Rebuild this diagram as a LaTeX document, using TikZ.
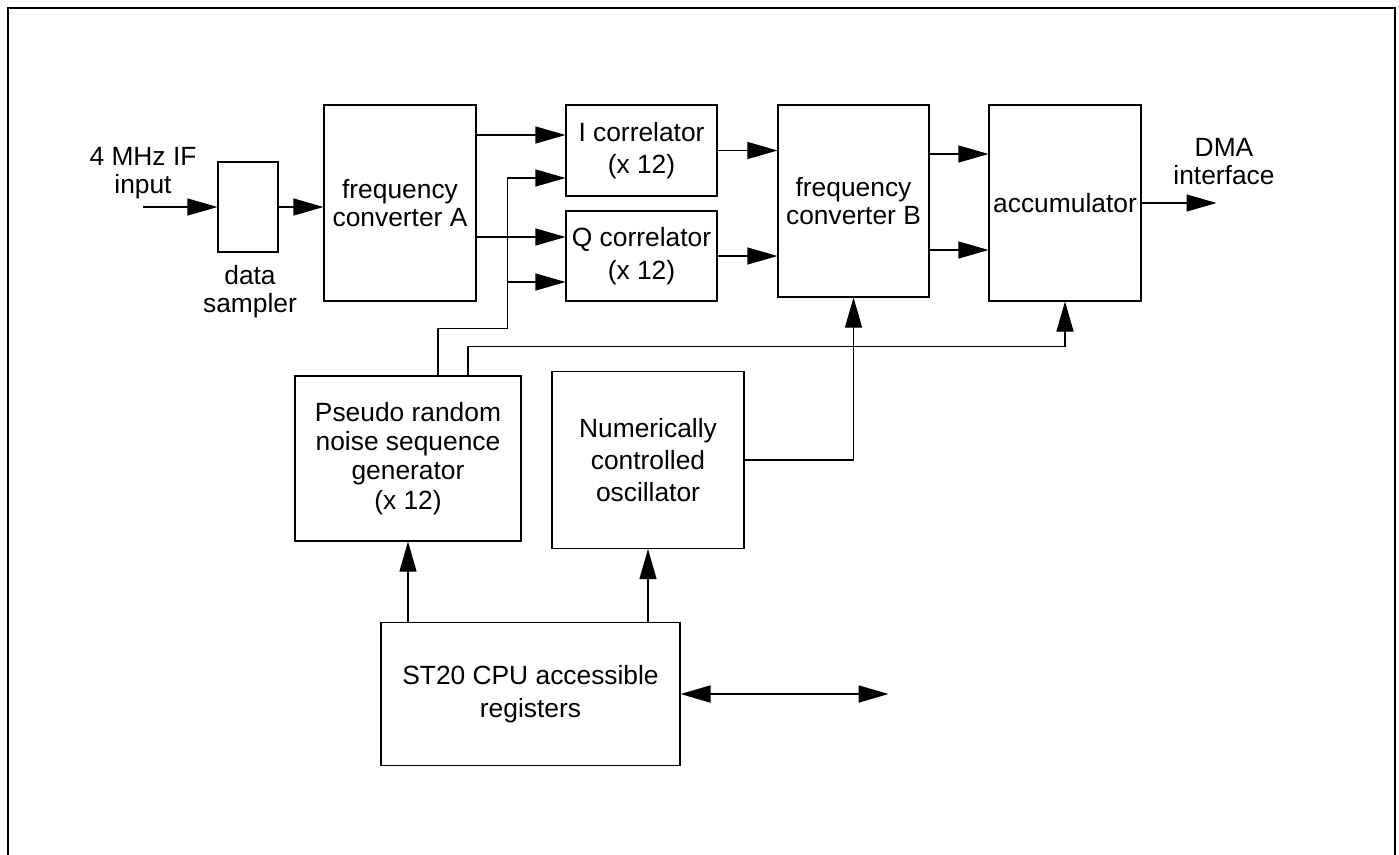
\documentclass[tikz,border=0pt]{standalone}
\usepackage{fontspec}
\setmainfont{Liberation Sans}
\usetikzlibrary{arrows.meta}

\tikzset{
	block/.style={draw, line width=0.6pt, inner sep=0pt, align=center, font=\fontsize{15}{17}\selectfont},
	lbl/.style={inner sep=0pt, align=center, font=\fontsize{15}{16}\selectfont},
	arr/.style={line width=0.6pt, -{Triangle[length=0.6cm, width=0.34cm]}},
	biarr/.style={line width=1pt, {Triangle[length=0.6cm, width=0.34cm]}-{Triangle[length=0.6cm, width=0.34cm]}}
}

\begin{document}
\begin{tikzpicture}[node distance=2cm]
		\useasboundingbox (0,0) rectangle (27.98,-17.08);
		% Draw the open frame
		\draw[line width=1.1pt] (0.16,-17.2) -- (0.16,-0.16) -- (27.90,-0.16) -- (27.90,-17.2);
		
		% Draw the input stage
		\node (sampler) [block, minimum width=1.2cm, minimum height=1.8cm] at (4.96,-4.14) {};
		\node (samplerlbl) [lbl, below of=sampler, yshift=0.3cm, xshift=0.04cm] {data\\sampler};
		\coordinate (ifin) at (2.86,-4.14);
		\node (iflbl) [lbl, above of=ifin, yshift=-1.33cm] {4 MHz IF\\input};
		
		% Draw the frequency converter A
		\node (fca) [block, minimum width=3.04cm, minimum height=3.92cm, right of=sampler, xshift=1.04cm, yshift=0.08cm, font=\fontsize{15}{15.5}\selectfont] {frequency\\converter A};
		
		% Draw the correlators
		\node (icor) [block, minimum width=3.02cm, minimum height=1.82cm, right of=fca, xshift=2.83cm, yshift=1.05cm, font=\fontsize{15}{18.5}\selectfont] {I correlator\\(x 12)};
		\node (qcor) [block, minimum width=3.02cm, minimum height=1.8cm, below of=icor, yshift=-0.11cm, font=\fontsize{15}{18.5}\selectfont] {Q correlator\\(x 12)};
		
		% Draw the frequency converter B and the accumulator
		\node (fcb) [block, minimum width=3.02cm, minimum height=3.84cm, right of=icor, xshift=2.24cm, yshift=-1.01cm, font=\fontsize{15}{15.5}\selectfont] {frequency\\converter B};
		\node (acc) [block, minimum width=3.04cm, minimum height=3.92cm, right of=fcb, xshift=2.23cm, yshift=-0.04cm] {accumulator};
		\coordinate (dmaout) at ([xshift=1.5cm]acc.east);
		\node (dmalbl) [lbl, right of=acc, xshift=1.18cm, yshift=0.83cm] {DMA\\interface};
		
		% Draw the code and carrier generators
		\node (prn) [block, minimum width=4.52cm, minimum height=3.3cm, below of=fca, xshift=0.16cm, yshift=-3.11cm, font=\fontsize{15}{16.6}\selectfont] {Pseudo random\\noise sequence\\generator\\(x 12)};
		\node (nco) [block, minimum width=3.84cm, minimum height=3.54cm, right of=prn, xshift=2.8cm, yshift=-0.03cm, font=\fontsize{15}{18}\selectfont] {Numerically\\controlled\\oscillator};
		
		% Draw the registers
		\node (st20) [block, minimum width=5.98cm, minimum height=2.86cm, below of=prn, xshift=2.45cm, yshift=-2.71cm, font=\fontsize{15}{18.5}\selectfont] {ST20 CPU accessible\\registers};
		\coordinate (cpubus) at ([xshift=4.16cm]st20.east);
		
		% Input points on the correlators and the accumulator
		\coordinate (ia1) at ([yshift=0.31cm]icor.west);
		\coordinate (ia2) at ([yshift=-0.55cm]icor.west);
		\coordinate (qa1) at ([yshift=0.38cm]qcor.west);
		\coordinate (qa2) at ([yshift=-0.52cm]qcor.west);
		\coordinate (aa1) at ([yshift=0.98cm]acc.west);
		\coordinate (aa2) at ([yshift=-0.94cm]acc.west);
		\coordinate (tap) at ([xshift=-1.16cm]ia2);
		\coordinate (p1) at ([xshift=0.6cm]prn.north);
		\coordinate (p2) at ([xshift=1.2cm]prn.north);
		
		% Connect the blocks with arrows
		\draw[arr] (ifin) -- (sampler);
		\draw[arr] (sampler.east) -- (sampler.east -| fca.west);
		\draw[arr] (fca.east |- ia1) -- (ia1);
		\draw[arr] (fca.east |- qa1) -- (qa1);
		\draw[arr] (icor.east) -- (icor.east -| fcb.west);
		\draw[arr] (qcor.east) -- (qcor.east -| fcb.west);
		\draw[arr] (fcb.east |- aa1) -- (aa1);
		\draw[arr] (fcb.east |- aa2) -- (aa2);
		\draw[arr] (acc.east) -- (dmaout);
		
		% Code and carrier feeds
		\draw[arr] (p1) -- ++(0,0.94) -| (tap) -- (ia2);
		\draw[arr] (tap |- qa2) -- (qa2);
		\draw[arr] (p2) -- ++(0,0.58) -| (acc.south);
		\draw[arr] (nco.east) -| (fcb.south);
		
		% Register connections
		\draw[arr] (st20.north -| prn.south) -- (prn.south);
		\draw[arr] (st20.north -| nco.south) -- (nco.south);
		\draw[biarr] (st20.east) -- (cpubus);
		\end{tikzpicture}
\end{document}
